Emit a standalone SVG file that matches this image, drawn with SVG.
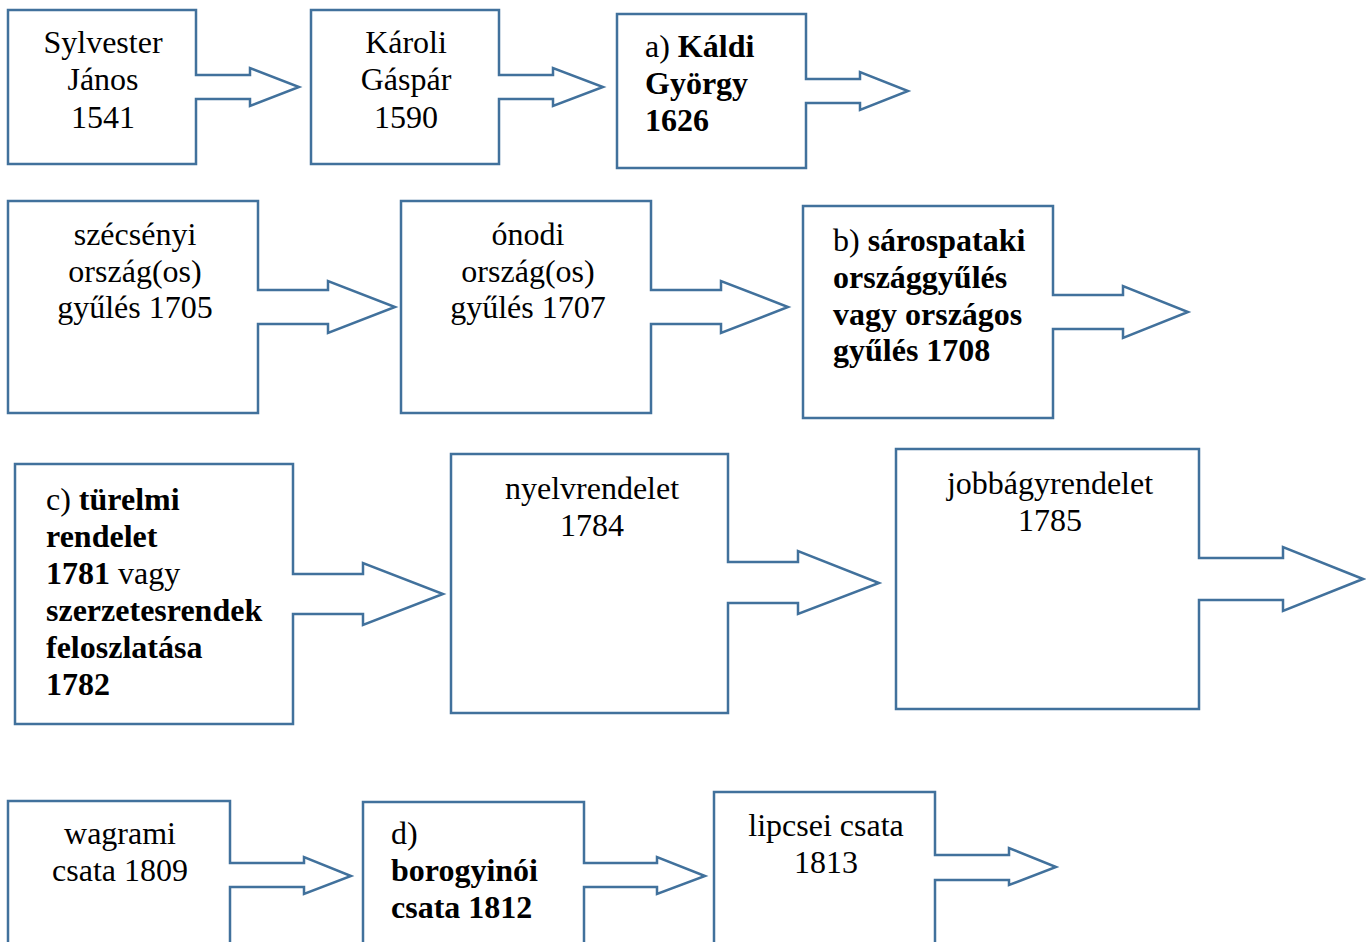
<svg xmlns="http://www.w3.org/2000/svg" width="1366" height="942" viewBox="0 0 1366 942">
<style>
.s{fill:#fff;stroke:#41719c;stroke-width:2.5;stroke-linejoin:miter}
text{font-family:"Liberation Serif","Times New Roman",serif;font-size:32px;fill:#000}
.c{text-anchor:middle}
.b{font-weight:bold}
</style>
<rect width="1366" height="942" fill="#fff"/>
<g id="n1">
<path class="s" d="M8,10 H196 V75 H250 V68 L299,87 L250,106 V99 H196 V164 H8 Z"/>
<text class="c" x="103" y="53">Sylvester</text>
<text class="c" x="103" y="90">János</text>
<text class="c" x="103" y="128">1541</text>
</g>
<g id="n2">
<path class="s" d="M311,10 H499 V75 H553 V68 L603,87 L553,106 V99 H499 V164 H311 Z"/>
<text class="c" x="406" y="53">Károli</text>
<text class="c" x="406" y="90">Gáspár</text>
<text class="c" x="406" y="128">1590</text>
</g>
<g id="n3">
<path class="s" d="M617,14 H806 V79 H860 V72 L908,91 L860,110 V103 H806 V168 H617 Z"/>
<text x="645" y="57">a) <tspan class="b">Káldi</tspan></text>
<text x="645" y="94" class="b">György</text>
<text x="645" y="131" class="b">1626</text>
</g>
<g id="n4">
<path class="s" d="M8,201 H258 V290 H328 V281 L395,307 L328,333 V324 H258 V413 H8 Z"/>
<text class="c" x="135" y="245">szécsényi</text>
<text class="c" x="135" y="282">ország(os)</text>
<text class="c" x="135" y="318">gyűlés 1705</text>
</g>
<g id="n5">
<path class="s" d="M401,201 H651 V290 H721 V281 L788,307 L721,333 V324 H651 V413 H401 Z"/>
<text class="c" x="528" y="245">ónodi</text>
<text class="c" x="528" y="282">ország(os)</text>
<text class="c" x="528" y="318">gyűlés 1707</text>
</g>
<g id="n6">
<path class="s" d="M803,206 H1053 V295 H1123 V286 L1188,312 L1123,338 V329 H1053 V418 H803 Z"/>
<text x="833" y="251">b) <tspan class="b">sárospataki</tspan></text>
<text x="833" y="288" class="b">országgyűlés</text>
<text x="833" y="325" class="b">vagy országos</text>
<text x="833" y="361" class="b">gyűlés 1708</text>
</g>
<g id="n7">
<path class="s" d="M15,464 H293 V574 H363 V563 L443,594 L363,625 V614 H293 V724 H15 Z"/>
<text x="46" y="510">c) <tspan class="b">türelmi</tspan></text>
<text x="46" y="547" class="b">rendelet</text>
<text x="46" y="584"><tspan class="b">1781</tspan> vagy</text>
<text x="46" y="621" class="b">szerzetesrendek</text>
<text x="46" y="658" class="b">feloszlatása</text>
<text x="46" y="695" class="b">1782</text>
</g>
<g id="n8">
<path class="s" d="M451,454 H728 V562 H798 V551 L879,583 L798,614 V603 H728 V713 H451 Z"/>
<text class="c" x="592" y="499">nyelvrendelet</text>
<text class="c" x="592" y="536">1784</text>
</g>
<g id="n9">
<path class="s" d="M896,449 H1199 V558 H1283 V547 L1363,579 L1283,611 V600 H1199 V709 H896 Z"/>
<text class="c" x="1050" y="494">jobbágyrendelet</text>
<text class="c" x="1050" y="531">1785</text>
</g>
<g id="n10">
<path class="s" d="M8,801 H230 V863 H304 V857 L351,876 L304,894 V887 H230 V960 H8 Z"/>
<text class="c" x="120" y="844">wagrami</text>
<text class="c" x="120" y="881">csata 1809</text>
</g>
<g id="n11">
<path class="s" d="M363,802 H584 V863 H657 V857 L705,876 L657,894 V887 H584 V960 H363 Z"/>
<text x="391" y="844">d)</text>
<text x="391" y="881" class="b">borogyinói</text>
<text x="391" y="918" class="b">csata 1812</text>
</g>
<g id="n12">
<path class="s" d="M714,792 H935 V855 H1009 V848 L1056,867 L1009,885 V880 H935 V960 H714 Z"/>
<text class="c" x="826" y="836">lipcsei csata</text>
<text class="c" x="826" y="873">1813</text>
</g>
</svg>
